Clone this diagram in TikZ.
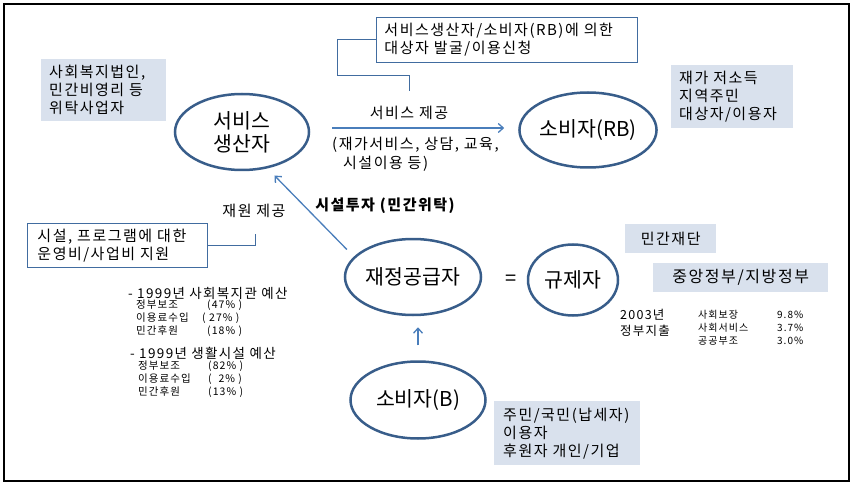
\documentclass[tikz,border=0pt]{standalone}
\usepackage{fontspec}
\setmainfont{Noto Sans CJK KR}[LetterSpace=10]
\newfontfamily\tightfont{Noto Sans CJK KR}
\usepackage{tikz}
\usetikzlibrary{calc}
\usetikzlibrary{arrows.meta}
\usetikzlibrary{positioning}
\usetikzlibrary{shapes.geometric}
\definecolor{navyline}{RGB}{56, 93, 138}
\definecolor{arrowblue}{RGB}{74, 126, 187}
\definecolor{paleblue}{RGB}{217, 225, 237}
\definecolor{boxline}{RGB}{65, 108, 160}

\begin{document}
\begin{tikzpicture}[x=1pt, y=-1pt,
    actor/.style={ellipse, draw=navyline, line width=2.5pt, inner sep=0pt, align=center, font=\tightfont\fontsize{20.5}{23}\selectfont},
    note/.style={fill=paleblue, inner xsep=8pt, inner ysep=0pt, align=left, anchor=north west, font=\fontsize{15}{18}\selectfont},
    callout/.style={draw=boxline, fill=white, line width=0.9pt, inner xsep=8pt, inner ysep=0pt, align=left, anchor=north west, font=\fontsize{15}{18}\selectfont},
    flow/.style={draw=arrowblue, line width=1.3pt, -{Straight Barb[length=5pt,width=9pt]}},
    lead/.style={draw=boxline, line width=0.9pt},
    caption/.style={inner sep=0pt, font=\fontsize{15}{19}\selectfont},
    small/.style={anchor=west, inner sep=0pt, align=left, font=\fontsize{10.5}{13}\selectfont},
    heading/.style={anchor=west, inner sep=0pt, align=left, font=\fontsize{13.5}{16}\selectfont}]
    \useasboundingbox (0,0) rectangle (852,492);
    \draw[line width=1.2pt] (4,4) rectangle (849,481);

    % actors
    \node[actor, minimum width=134pt, minimum height=76pt] (prod) at (242,132) {서비스\\생산자};
    \node[actor, minimum width=136pt, minimum height=75pt] (rb)   at (588,130) {소비자(RB)};
    \node[actor, minimum width=136pt, minimum height=76pt] (fin)  at (413,277) {재정공급자};
    \node[actor, minimum width=90pt,  minimum height=71pt] (reg)  at (573,280) {규제자};
    \node[actor, minimum width=135pt, minimum height=77pt] (cons) at (418,400) {소비자(B)};
    \node[inner sep=0pt, font=\fontsize{20}{23}\selectfont] (same) at (511,280) {=};

    % shaded notes
    \node[note, text width=109pt, minimum height=62pt] (corp) at (41,59) {사회복지법인,\\민간비영리 등\\위탁사업자};
    \node[note, text width=106pt, minimum height=63pt] (home) at (671,65) {재가 저소득\\지역주민\\대상자/이용자};
    \node[note, align=center, text width=75pt, minimum height=29pt] (found) at (625,224) {민간재단};
    \node[note, align=center, text width=159pt, minimum height=29pt, font=\fontsize{16}{18}\selectfont] (gov) at (653,263) {중앙정부/지방정부};
    \node[note, inner xsep=9pt, text width=128pt, minimum height=64pt] (payer) at (494,401) {주민/국민(납세자)\\이용자\\후원자 개인/기업};

    % callouts
    \node[callout, text width=245pt, minimum height=45pt] (req) at (376,17) {서비스생산자/소비자(RB)에 의한\\대상자 발굴/이용신청};
    \node[callout, inner xsep=10pt, text width=160pt, minimum height=44pt] (grant) at (27,223) {시설, 프로그램에 대한\\운영비/사업비 지원};
    \draw[lead] (req.west) -- ++(-39,0) -- ++(0,36) -- ++(72,0) -- ++(0,15);
    \draw[lead] (grant.east) -- ++(48,0) -- ++(0,-11);

    % flows
    \draw[flow, shorten <=22pt, shorten >=14pt] ([yshift=4pt]prod.east) -- ([yshift=2pt]rb.west);
    \draw[flow, shorten <=10pt, shorten >=10pt] (fin.161) -- (prod.-55);
    \draw[flow, shorten <=15pt, shorten >=11pt] (cons.north) -- (cons.north |- fin.south);

    \node[caption] (give) at (409,113) {서비스 제공};
    \node[caption, anchor=north west, align=left] (kinds) at (332,137) {(재가서비스, 상담, 교육,\\\hspace*{11pt}시설이용 등)};
    \node[caption] (fund) at (254,211) {재원 제공};
    \node[caption, font=\bfseries\fontsize{15}{16}\selectfont] (invest) at (385,206) {시설투자 (민간위탁)};

    % budget figures
    \node[heading] (welfare) at (128,293) {- 1999년 사회복지관 예산};
    \node[small] (welrows) at (136,318) {\makebox[71pt][l]{정부보조}(47\% )\\\makebox[66pt][l]{이용료수입}( 27\% )\\\makebox[71pt][l]{민간후원}(18\% )};
    \node[heading] (living) at (130,353) {- 1999년 생활시설 예산};
    \node[small] (livrows) at (138,379) {\makebox[70pt][l]{정부보조}(82\% )\\\makebox[70pt][l]{이용료수입}(\ \ 2\% )\\\makebox[70pt][l]{민간후원}(13\% )};

    \node[heading, font=\fontsize{12.5}{16}\selectfont] (spend) at (620,323) {2003년\\정부지출};
    \node[small, font=\fontsize{10}{13}\selectfont] (spendrows) at (698,328) {\makebox[79pt][l]{사회보장}9.8\%\\\makebox[79pt][l]{사회서비스}3.7\%\\\makebox[79pt][l]{공공부조}3.0\%};
\end{tikzpicture}
\end{document}
